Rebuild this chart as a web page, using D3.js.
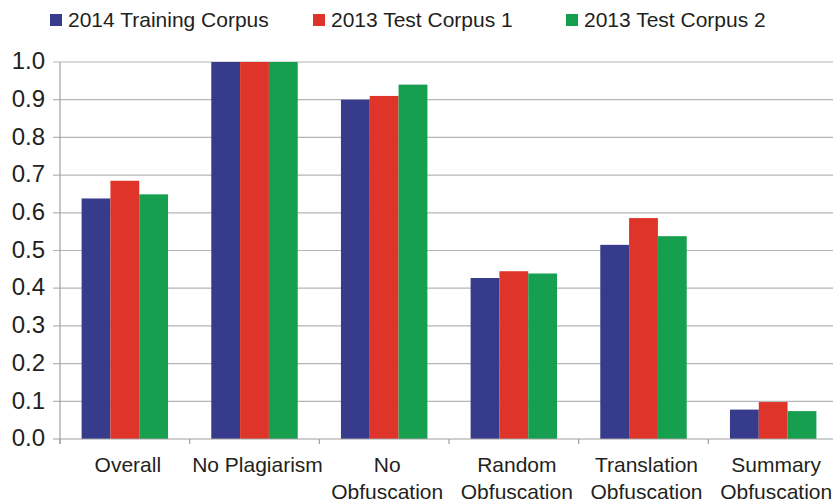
<!DOCTYPE html>
<html>
<head>
<meta charset="utf-8">
<script src="https://cdn.jsdelivr.net/npm/d3@7"></script>
<style>
  body { margin: 0; background: #fff; }
  text { font-family: "Liberation Sans", Arial, sans-serif; fill: #231f20; }
</style>
</head>
<body>
<svg id="chart"></svg>
<script>
const width = 833;
const height = 503;
const margin = { top: 62, right: -5, bottom: 64, left: 60 };

const categories = [
    ['Overall'],
    ['No Plagiarism'],
    ['No', 'Obfuscation'],
    ['Random', 'Obfuscation'],
    ['Translation', 'Obfuscation'],
    ['Summary', 'Obfuscation']
];
const seriesNames = ['2014 Training Corpus', '2013 Test Corpus 1', '2013 Test Corpus 2'];
const training2014 = [0.638, 1.0, 0.900, 0.427, 0.515, 0.078];
const test2013a = [0.685, 1.0, 0.910, 0.445, 0.586, 0.098];
const test2013b = [0.649, 1.0, 0.940, 0.439, 0.538, 0.074];
const yTicks = [0, 0.1, 0.2, 0.3, 0.4, 0.5, 0.6, 0.7, 0.8, 0.9, 1.0];
const colors = ['#363b8c', '#df3429', '#169f4f'];

const series = [training2014, test2013a, test2013b];

const svg = d3.select('#chart')
    .attr('width', width)
    .attr('height', height);

const catKeys = categories.map(c => c.join(' '));

const x = d3.scaleBand()
    .domain(catKeys)
    .range([margin.left, width - margin.right])
    .paddingInner(0)
    .paddingOuter(0);

// three bars per group, centred in each band
const xInner = d3.scaleBand()
    .domain(seriesNames)
    .range([0, x.bandwidth()])
    .paddingOuter(0.75)
    .paddingInner(0);

const y = d3.scaleLinear()
    .domain([0, 1])
    .range([height - margin.bottom, margin.top]);

// gridlines
svg.append('g')
    .selectAll('line')
    .data(yTicks.slice(1))
    .enter()
    .append('line')
    .attr('x1', margin.left - 7)
    .attr('x2', width)
    .attr('y1', d => y(d))
    .attr('y2', d => y(d))
    .attr('stroke', '#b5b5b5')
    .attr('stroke-width', 1.2);

// y axis line
svg.append('line')
    .attr('x1', margin.left).attr('x2', margin.left)
    .attr('y1', y(1)).attr('y2', y(0) + 5)
    .attr('stroke', '#a0a0a0')
    .attr('stroke-width', 1.2);

// y labels
svg.append('g')
    .selectAll('text')
    .data(yTicks)
    .enter()
    .append('text')
    .attr('x', 45)
    .attr('y', d => y(d))
    .attr('dy', '0.3em')
    .attr('text-anchor', 'end')
    .style('font-size', '24px')
    .text(d => d3.format('.1f')(d));

// bars
const groups = svg.append('g')
    .selectAll('g')
    .data(catKeys)
    .enter()
    .append('g')
    .attr('transform', d => `translate(${x(d)},0)`);

groups.selectAll('rect')
    .data((d, i) => series.map((s, j) => ({ name: seriesNames[j], value: s[i], color: colors[j] })))
    .enter()
    .append('rect')
    .attr('x', d => xInner(d.name))
    .attr('width', xInner.bandwidth())
    .attr('y', d => y(d.value))
    .attr('height', d => y(0) - y(d.value))
    .attr('fill', d => d.color);

// x axis line and ticks
svg.append('line')
    .attr('x1', margin.left - 7).attr('x2', width)
    .attr('y1', y(0)).attr('y2', y(0))
    .attr('stroke', '#a0a0a0')
    .attr('stroke-width', 1.2);

svg.append('g')
    .selectAll('line')
    .data(catKeys)
    .enter()
    .append('line')
    .attr('x1', d => x(d)).attr('x2', d => x(d))
    .attr('y1', y(0)).attr('y2', y(0) + 5)
    .attr('stroke', '#a0a0a0')
    .attr('stroke-width', 1.2);

// x labels
const xLabels = svg.append('g')
    .selectAll('text')
    .data(categories)
    .enter()
    .append('text')
    .attr('x', (d, i) => x(catKeys[i]) + x.bandwidth() / 2 + 3)
    .attr('y', 472)
    .attr('text-anchor', 'middle')
    .style('font-size', '21px');

xLabels.selectAll('tspan')
    .data(d => d)
    .enter()
    .append('tspan')
    .attr('x', function () { return d3.select(this.parentNode).attr('x'); })
    .attr('dy', (d, i) => i === 0 ? 0 : 27)
    .text(d => d);

// legend
const legendX = [50, 313, 566];
const legend = svg.append('g')
    .selectAll('g')
    .data(seriesNames)
    .enter()
    .append('g')
    .attr('transform', (d, i) => `translate(${legendX[i]},0)`);

legend.append('rect')
    .attr('x', 0).attr('y', 14)
    .attr('width', 12).attr('height', 12)
    .attr('fill', (d, i) => colors[i]);

legend.append('text')
    .attr('x', 18)
    .attr('y', 27)
    .style('font-size', '21px')
    .text(d => d);
</script>
</body>
</html>
